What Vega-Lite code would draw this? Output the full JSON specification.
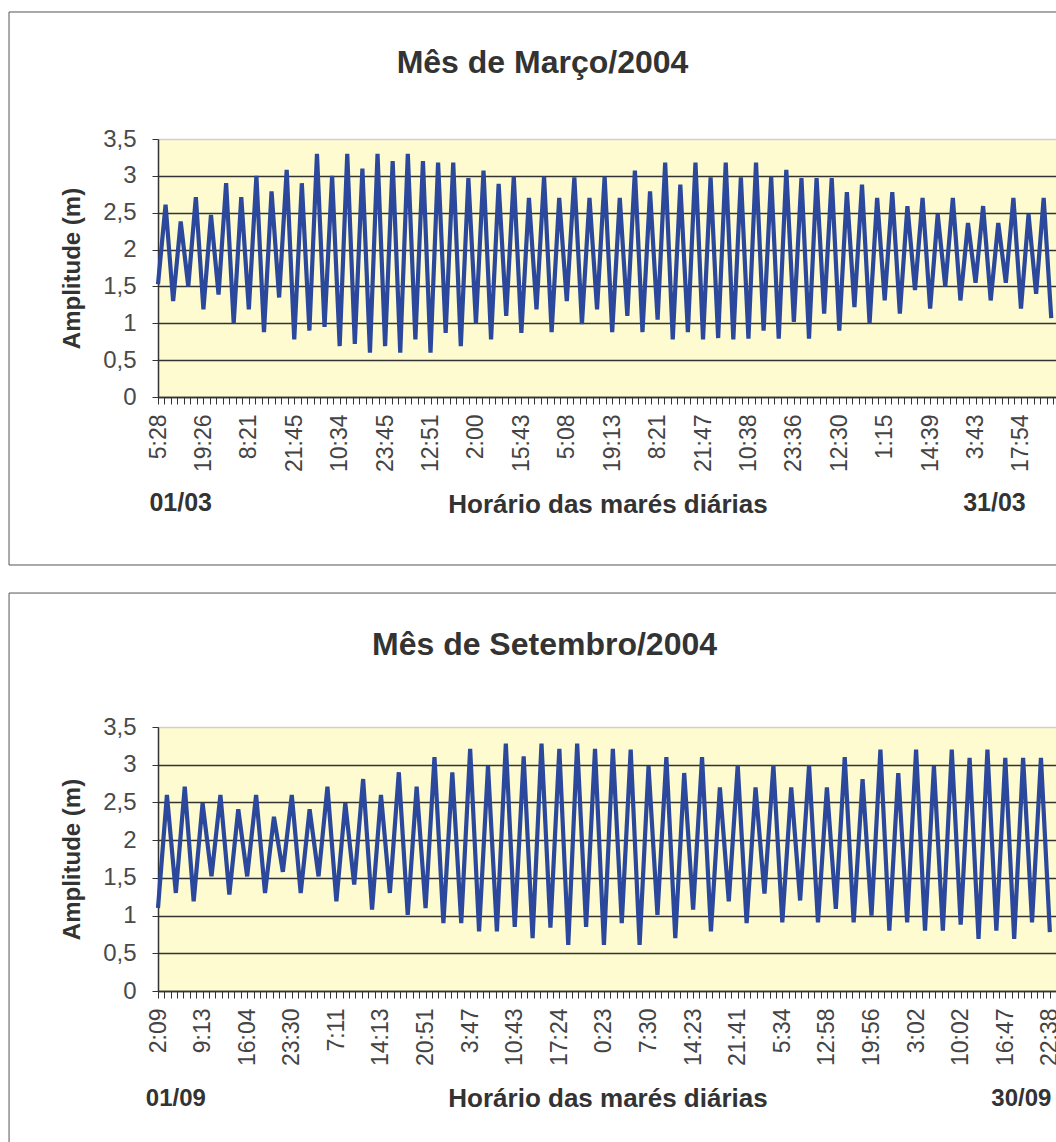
{
  "$schema": "https://vega.github.io/schema/vega-lite/v6.json",
  "background": "white",
  "padding": {"left": 8, "top": 10, "right": 0, "bottom": 0},
  "spacing": 26,
  "config": {
    "font": "Liberation Sans",
    "view": {"fill": "#FDFBCF", "stroke": "#cfcfcf"}
  },
  "datasets": {
    "marco": [{"n":0,"amp":1.53},{"n":1,"amp":2.61},{"n":2,"amp":1.30},{"n":3,"amp":2.38},{"n":4,"amp":1.50},{"n":5,"amp":2.71},{"n":6,"amp":1.19},{"n":7,"amp":2.47},{"n":8,"amp":1.39},{"n":9,"amp":2.90},{"n":10,"amp":1.00},{"n":11,"amp":2.71},{"n":12,"amp":1.19},{"n":13,"amp":3.00},{"n":14,"amp":0.88},{"n":15,"amp":2.79},{"n":16,"amp":1.35},{"n":17,"amp":3.08},{"n":18,"amp":0.78},{"n":19,"amp":2.90},{"n":20,"amp":0.90},{"n":21,"amp":3.30},{"n":22,"amp":0.95},{"n":23,"amp":3.00},{"n":24,"amp":0.69},{"n":25,"amp":3.30},{"n":26,"amp":0.72},{"n":27,"amp":3.10},{"n":28,"amp":0.60},{"n":29,"amp":3.30},{"n":30,"amp":0.69},{"n":31,"amp":3.20},{"n":32,"amp":0.60},{"n":33,"amp":3.30},{"n":34,"amp":0.78},{"n":35,"amp":3.20},{"n":36,"amp":0.60},{"n":37,"amp":3.18},{"n":38,"amp":0.87},{"n":39,"amp":3.18},{"n":40,"amp":0.69},{"n":41,"amp":2.97},{"n":42,"amp":1.00},{"n":43,"amp":3.07},{"n":44,"amp":0.78},{"n":45,"amp":2.89},{"n":46,"amp":1.10},{"n":47,"amp":2.99},{"n":48,"amp":0.87},{"n":49,"amp":2.70},{"n":50,"amp":1.19},{"n":51,"amp":2.99},{"n":52,"amp":0.88},{"n":53,"amp":2.70},{"n":54,"amp":1.30},{"n":55,"amp":2.98},{"n":56,"amp":0.99},{"n":57,"amp":2.70},{"n":58,"amp":1.19},{"n":59,"amp":2.99},{"n":60,"amp":0.88},{"n":61,"amp":2.70},{"n":62,"amp":1.10},{"n":63,"amp":3.07},{"n":64,"amp":0.88},{"n":65,"amp":2.79},{"n":66,"amp":1.05},{"n":67,"amp":3.18},{"n":68,"amp":0.78},{"n":69,"amp":2.88},{"n":70,"amp":0.88},{"n":71,"amp":3.18},{"n":72,"amp":0.78},{"n":73,"amp":2.98},{"n":74,"amp":0.80},{"n":75,"amp":3.18},{"n":76,"amp":0.78},{"n":77,"amp":2.98},{"n":78,"amp":0.79},{"n":79,"amp":3.18},{"n":80,"amp":0.90},{"n":81,"amp":2.99},{"n":82,"amp":0.79},{"n":83,"amp":3.08},{"n":84,"amp":1.02},{"n":85,"amp":2.97},{"n":86,"amp":0.79},{"n":87,"amp":2.97},{"n":88,"amp":1.13},{"n":89,"amp":2.97},{"n":90,"amp":0.90},{"n":91,"amp":2.78},{"n":92,"amp":1.22},{"n":93,"amp":2.88},{"n":94,"amp":1.00},{"n":95,"amp":2.70},{"n":96,"amp":1.31},{"n":97,"amp":2.78},{"n":98,"amp":1.13},{"n":99,"amp":2.59},{"n":100,"amp":1.45},{"n":101,"amp":2.70},{"n":102,"amp":1.20},{"n":103,"amp":2.48},{"n":104,"amp":1.50},{"n":105,"amp":2.70},{"n":106,"amp":1.31},{"n":107,"amp":2.36},{"n":108,"amp":1.55},{"n":109,"amp":2.59},{"n":110,"amp":1.31},{"n":111,"amp":2.36},{"n":112,"amp":1.55},{"n":113,"amp":2.70},{"n":114,"amp":1.20},{"n":115,"amp":2.48},{"n":116,"amp":1.40},{"n":117,"amp":2.70},{"n":118,"amp":1.07}],
    "setembro": [{"n":0,"amp":1.10},{"n":1,"amp":2.60},{"n":2,"amp":1.30},{"n":3,"amp":2.71},{"n":4,"amp":1.19},{"n":5,"amp":2.49},{"n":6,"amp":1.52},{"n":7,"amp":2.60},{"n":8,"amp":1.28},{"n":9,"amp":2.41},{"n":10,"amp":1.52},{"n":11,"amp":2.60},{"n":12,"amp":1.30},{"n":13,"amp":2.31},{"n":14,"amp":1.58},{"n":15,"amp":2.60},{"n":16,"amp":1.30},{"n":17,"amp":2.41},{"n":18,"amp":1.52},{"n":19,"amp":2.71},{"n":20,"amp":1.19},{"n":21,"amp":2.49},{"n":22,"amp":1.41},{"n":23,"amp":2.81},{"n":24,"amp":1.08},{"n":25,"amp":2.60},{"n":26,"amp":1.30},{"n":27,"amp":2.90},{"n":28,"amp":1.01},{"n":29,"amp":2.71},{"n":30,"amp":1.10},{"n":31,"amp":3.10},{"n":32,"amp":0.90},{"n":33,"amp":2.90},{"n":34,"amp":0.90},{"n":35,"amp":3.21},{"n":36,"amp":0.79},{"n":37,"amp":2.98},{"n":38,"amp":0.79},{"n":39,"amp":3.28},{"n":40,"amp":0.85},{"n":41,"amp":3.11},{"n":42,"amp":0.70},{"n":43,"amp":3.28},{"n":44,"amp":0.84},{"n":45,"amp":3.21},{"n":46,"amp":0.61},{"n":47,"amp":3.28},{"n":48,"amp":0.85},{"n":49,"amp":3.21},{"n":50,"amp":0.61},{"n":51,"amp":3.21},{"n":52,"amp":0.90},{"n":53,"amp":3.20},{"n":54,"amp":0.61},{"n":55,"amp":2.98},{"n":56,"amp":1.01},{"n":57,"amp":3.10},{"n":58,"amp":0.70},{"n":59,"amp":2.89},{"n":60,"amp":1.08},{"n":61,"amp":3.10},{"n":62,"amp":0.79},{"n":63,"amp":2.70},{"n":64,"amp":1.19},{"n":65,"amp":2.99},{"n":66,"amp":0.90},{"n":67,"amp":2.70},{"n":68,"amp":1.29},{"n":69,"amp":2.99},{"n":70,"amp":0.91},{"n":71,"amp":2.70},{"n":72,"amp":1.20},{"n":73,"amp":2.99},{"n":74,"amp":0.91},{"n":75,"amp":2.70},{"n":76,"amp":1.09},{"n":77,"amp":3.10},{"n":78,"amp":0.91},{"n":79,"amp":2.81},{"n":80,"amp":1.00},{"n":81,"amp":3.20},{"n":82,"amp":0.80},{"n":83,"amp":2.89},{"n":84,"amp":0.91},{"n":85,"amp":3.20},{"n":86,"amp":0.80},{"n":87,"amp":2.98},{"n":88,"amp":0.80},{"n":89,"amp":3.20},{"n":90,"amp":0.88},{"n":91,"amp":3.09},{"n":92,"amp":0.69},{"n":93,"amp":3.20},{"n":94,"amp":0.80},{"n":95,"amp":3.09},{"n":96,"amp":0.69},{"n":97,"amp":3.09},{"n":98,"amp":0.91},{"n":99,"amp":3.09},{"n":100,"amp":0.78}]
  },
  "vconcat": [
    {
      "width": 899,
      "height": 258,
      "title": {"text": "Mês de Março/2004", "fontSize": 32, "fontWeight": "bold", "color": "#333333", "anchor": "middle", "frame": "group", "dx": -65, "offset": -69},
      "layer": [
        {
          "data": {"name": "marco"},
          "mark": {"type": "line", "color": "#2B489C", "strokeWidth": 4.2},
          "encoding": {
            "x": {
              "field": "n", "type": "quantitative",
              "scale": {"domain": [0, 118.76], "nice": false, "zero": false},
              "axis": {
                "values": {"expr": "sequence(0, 119, 6/7)"},
                "tickCount": 400,
                "labelExpr": "abs(datum.value/6 - round(datum.value/6)) < 0.01 ? ['5:28','19:26','8:21','21:45','10:34','23:45','12:51','2:00','15:43','5:08','19:13','8:21','21:47','10:38','23:36','12:30','1:15','14:39','3:43','17:54'][round(datum.value/6)] : ''",
                "labelAngle": -90, "labelFontSize": 23, "labelColor": "#444444", "labelPadding": 10,
                "labelOverlap": false, "labelFlush": false,
                "tickSize": 7, "tickColor": "#333333", "domainColor": "#333333", "domainWidth": 1.5,
                "grid": false,
                "title": "Horário das marés diárias", "titleFontSize": 26, "titleFontWeight": "bold", "titleColor": "#333333", "titlePadding": 20
              }
            },
            "y": {
              "field": "amp", "type": "quantitative",
              "scale": {"domain": [0, 3.5], "nice": false},
              "axis": {
                "values": [0, 0.5, 1, 1.5, 2, 2.5, 3, 3.5],
                "tickCount": 50,
                "labelExpr": "replace(format(datum.value, '.1~f'), '.', ',')",
                "labelFontSize": 24, "labelColor": "#4a4a4a", "labelPadding": 16,
                "labelOverlap": false,
                "tickSize": 6, "tickColor": "#333333", "domainColor": "#333333", "domainWidth": 1.5,
                "grid": true, "gridWidth": 1.3,
                "gridColor": {"condition": {"test": "datum.value >= 3.5", "value": "#d0d0d0"}, "value": "#333333"},
                "title": "Amplitude (m)", "titleFontSize": 24, "titleFontWeight": "bold", "titleColor": "#333333", "titlePadding": 18
              }
            }
          }
        },
        {
          "data": {"values": [{}]},
          "mark": {"type": "rule", "color": "#555555", "strokeWidth": 1},
          "encoding": {"x": {"datum": -19.68}, "y": {"datum": 5.223}, "y2": {"datum": -2.279}}
        },
        {
          "data": {"values": [{}]},
          "mark": {"type": "rule", "color": "#555555", "strokeWidth": 1},
          "encoding": {"x": {"datum": -19.68}, "x2": {"datum": 118.76}, "y": {"datum": 5.223}}
        },
        {
          "data": {"values": [{}]},
          "mark": {"type": "rule", "color": "#555555", "strokeWidth": 1},
          "encoding": {"x": {"datum": -19.68}, "x2": {"datum": 118.76}, "y": {"datum": -2.279}}
        },
        {
          "data": {"values": [{"txt": "01/03", "n": 3}, {"txt": "31/03", "n": 110.5}]},
          "mark": {"type": "text", "fontSize": 25, "fontWeight": "bold", "color": "#333333", "baseline": "middle"},
          "encoding": {"x": {"field": "n", "type": "quantitative"}, "y": {"datum": -1.438}, "text": {"field": "txt"}}
        }
      ]
    },
    {
      "width": 899,
      "height": 264,
      "title": {"text": "Mês de Setembro/2004", "fontSize": 32, "fontWeight": "bold", "color": "#333333", "anchor": "middle", "frame": "group", "dx": -63, "offset": -69},
      "layer": [
        {
          "data": {"name": "setembro"},
          "mark": {"type": "line", "color": "#2B489C", "strokeWidth": 4.2},
          "encoding": {
            "x": {
              "field": "n", "type": "quantitative",
              "scale": {"domain": [0, 100.8], "nice": false, "zero": false},
              "axis": {
                "values": {"expr": "sequence(0, 101, 5/7)"},
                "tickCount": 400,
                "labelExpr": "abs(datum.value/5 - round(datum.value/5)) < 0.01 ? ['2:09','9:13','16:04','23:30','7:11','14:13','20:51','3:47','10:43','17:24','0:23','7:30','14:23','21:41','5:34','12:58','19:56','3:02','10:02','16:47','22:38'][round(datum.value/5)] : ''",
                "labelAngle": -90, "labelFontSize": 23, "labelColor": "#444444", "labelPadding": 10,
                "labelOverlap": false, "labelFlush": false,
                "tickSize": 7, "tickColor": "#333333", "domainColor": "#333333", "domainWidth": 1.5,
                "grid": false,
                "title": "Horário das marés diárias", "titleFontSize": 26, "titleFontWeight": "bold", "titleColor": "#333333", "titlePadding": 20
              }
            },
            "y": {
              "field": "amp", "type": "quantitative",
              "scale": {"domain": [0, 3.5], "nice": false},
              "axis": {
                "values": [0, 0.5, 1, 1.5, 2, 2.5, 3, 3.5],
                "tickCount": 50,
                "labelExpr": "replace(format(datum.value, '.1~f'), '.', ',')",
                "labelFontSize": 24, "labelColor": "#4a4a4a", "labelPadding": 16,
                "labelOverlap": false,
                "tickSize": 6, "tickColor": "#333333", "domainColor": "#333333", "domainWidth": 1.5,
                "grid": true, "gridWidth": 1.3,
                "gridColor": {"condition": {"test": "datum.value >= 3.5", "value": "#d0d0d0"}, "value": "#333333"},
                "title": "Amplitude (m)", "titleFontSize": 24, "titleFontWeight": "bold", "titleColor": "#333333", "titlePadding": 18
              }
            }
          }
        },
        {
          "data": {"values": [{}]},
          "mark": {"type": "rule", "color": "#555555", "strokeWidth": 1},
          "encoding": {"x": {"datum": -16.7}, "y": {"datum": 5.276}, "y2": {"datum": -2.035}}
        },
        {
          "data": {"values": [{}]},
          "mark": {"type": "rule", "color": "#555555", "strokeWidth": 1},
          "encoding": {"x": {"datum": -16.7}, "x2": {"datum": 100.8}, "y": {"datum": 5.276}}
        },
        {
          "data": {"values": [{"txt": "01/09", "n": 2}, {"txt": "30/09", "n": 96.8}]},
          "mark": {"type": "text", "fontSize": 24, "fontWeight": "bold", "color": "#333333", "baseline": "middle"},
          "encoding": {"x": {"field": "n", "type": "quantitative"}, "y": {"datum": -1.432}, "text": {"field": "txt"}}
        }
      ]
    }
  ]
}
